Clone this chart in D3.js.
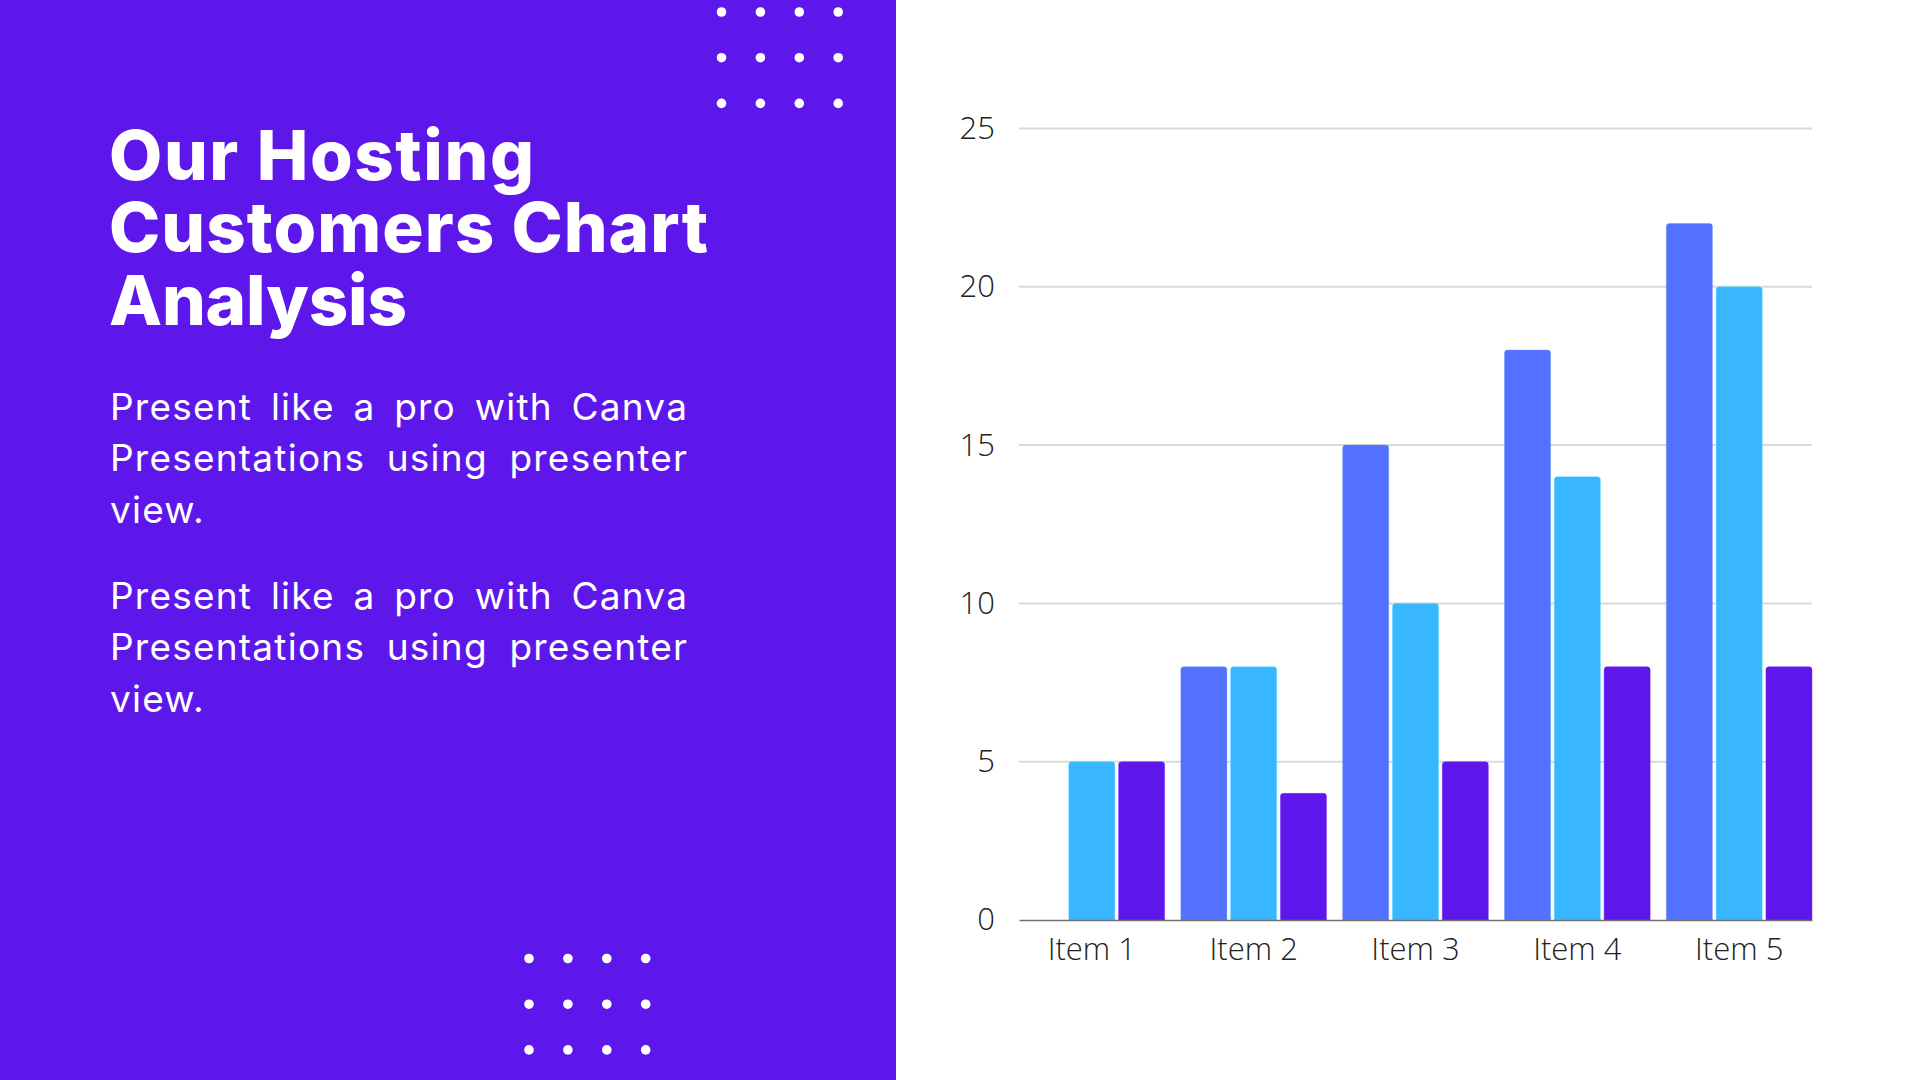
<!DOCTYPE html>
<html>
<head>
<meta charset="utf-8">
<script src="https://cdn.jsdelivr.net/npm/d3@7"></script>
<style>
  html, body { margin: 0; padding: 0; background: #ffffff; }
  svg { display: block; }
</style>
</head>
<body>
<svg id="chart" width="1920" height="1080"></svg>
<script>
// ---- data ----
const categories = ["Item 1", "Item 2", "Item 3", "Item 4", "Item 5"];
const series1 = [0, 8, 15, 18, 22];
const series2 = [5, 8, 10, 14, 20];
const series3 = [5, 4, 5, 8, 8];
const seriesNames = ["Series 1", "Series 2", "Series 3"];
const seriesColors = ["#5271FF", "#38B6FF", "#5E17EB"];
const yTicks = [0, 5, 10, 15, 20, 25];
const titleLines = ["Our Hosting", "Customers Chart", "Analysis"];
const paragraph = ["Present like a pro with Canva", "Presentations using presenter", "view."];

const svg = d3.select("#chart");
const W = 1920, H = 1080;
const purple = "#5E17EB";

// left panel
svg.append("rect").attr("x", 0).attr("y", 0).attr("width", 896).attr("height", H).attr("fill", purple);

// dot grids
function dotGrid(x0, y0) {
  const g = svg.append("g");
  for (let r = 0; r < 3; r++) for (let c = 0; c < 4; c++) {
    g.append("circle").attr("cx", x0 + c * 38.9).attr("cy", y0 + r * 45.7).attr("r", 4.8).attr("fill", "#ffffff");
  }
}
dotGrid(721.5, 12);
dotGrid(529, 958.5);

// title (one text element, one tspan per line)
const titleFont = "Inter, 'Open Sans', sans-serif";
const titleTargets = [425, 599, 298];
const titleBase = [180, 252, 325];
const titleText = svg.append("text")
  .attr("fill", "#ffffff")
  .style("font-family", titleFont).style("font-weight", 800).style("font-size", "69px");
titleLines.forEach((t, i) => {
  const ts = titleText.append("tspan").attr("x", 109).attr("y", titleBase[i]).text(t);
  const w = ts.node().getComputedTextLength();
  const ls = (titleTargets[i] - w) / (t.length - 1);
  ts.style("letter-spacing", ls + "px");
});

// paragraphs (justified)
const bodyFont = "Inter, 'Open Sans', sans-serif";
const bodySize = 37;
const bodyLeft = 110, bodyRight = 687;
const bodyWidth = bodyRight - bodyLeft;
const probe = svg.append("text").style("font-family", bodyFont).style("font-size", bodySize + "px").style("font-weight", 400);
let wordsW = 0, nLetters = 0;
paragraph[1].split(" ").forEach(wd => { probe.text(wd); wordsW += probe.node().getComputedTextLength(); nLetters += wd.length; });
probe.remove();
const bodyLs = Math.max(0, (bodyWidth - 42 - wordsW) / nLetters);

function drawParagraph(y0) {
  paragraph.forEach((line, i) => {
    const tx = svg.append("text")
      .attr("x", bodyLeft).attr("y", y0 + i * 51.7)
      .attr("fill", "#ffffff")
      .style("font-family", bodyFont).style("font-size", bodySize + "px").style("font-weight", 400)
      .style("letter-spacing", bodyLs + "px")
      .text(line);
    if (i < paragraph.length - 1) {
      const L = tx.node().getComputedTextLength();
      const gaps = line.split(" ").length - 1;
      const ws = (bodyWidth + bodyLs - L) / gaps;
      tx.style("word-spacing", ws + "px");
    }
  });
}
drawParagraph(419.5);
drawParagraph(608.5);

// ---- chart ----
const plot = { left: 1019, right: 1812, top: 128.5, bottom: 920 };
const x0 = d3.scaleBand().domain(categories).range([plot.left, plot.right]).paddingInner(0.1).paddingOuter(0);
const x1 = d3.scaleBand().domain(seriesNames).range([0, x0.bandwidth()]).paddingInner(0.075).paddingOuter(0);
const y = d3.scaleLinear().domain([0, 25]).range([plot.bottom, plot.top]);

const axisFont = "'Open Sans', sans-serif";

// gridlines
svg.append("g").selectAll("line").data(yTicks.filter(d => d > 0)).join("line")
  .attr("x1", plot.left).attr("x2", plot.right)
  .attr("y1", d => y(d)).attr("y2", d => y(d))
  .attr("stroke", "#d9d9d9").attr("stroke-width", 2);

// y axis labels
const yAxis = d3.axisLeft(y).tickValues(yTicks).tickSize(0).tickPadding(24);
const yg = svg.append("g").attr("transform", `translate(${plot.left},0)`).call(yAxis);
yg.select(".domain").remove();
yg.selectAll("text")
  .style("font-family", axisFont).style("font-size", "31px").style("font-weight", 300)
  .attr("fill", "#222222");

// bars
const rows = categories.map((c, i) => ({ cat: c, vals: [series1[i], series2[i], series3[i]] }));
function topRounded(x, yTop, w, h, r) {
  r = Math.min(r, h, w / 2);
  return `M${x},${yTop + h}V${yTop + r}Q${x},${yTop} ${x + r},${yTop}H${x + w - r}Q${x + w},${yTop} ${x + w},${yTop + r}V${yTop + h}Z`;
}
const groups = svg.append("g").selectAll("g").data(rows).join("g")
  .attr("transform", d => `translate(${x0(d.cat)},0)`);
groups.selectAll("path").data(d => d.vals.map((v, k) => ({ v, k })).filter(e => e.v > 0)).join("path")
  .attr("d", e => topRounded(x1(seriesNames[e.k]), y(e.v), x1.bandwidth(), y(0) - y(e.v), 3))
  .attr("fill", e => seriesColors[e.k])
  .attr("stroke", e => d3.color(seriesColors[e.k]).brighter(0.6))
  .attr("stroke-opacity", 0.5)
  .attr("stroke-width", 0.8);

// x axis
const xAxis = d3.axisBottom(x0).tickSize(0).tickPadding(18);
const xg = svg.append("g").attr("transform", `translate(0,${plot.bottom})`).call(xAxis);
xg.select(".domain").attr("stroke", "#707070").attr("stroke-width", 1.5);
xg.selectAll("text")
  .style("font-family", axisFont).style("font-size", "31px").style("font-weight", 300)
  .attr("fill", "#222222");
</script>
</body>
</html>
